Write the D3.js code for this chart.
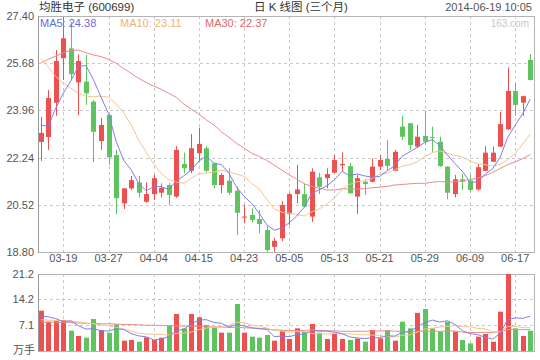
<!DOCTYPE html>
<html><head><meta charset="utf-8">
<script src="https://cdn.jsdelivr.net/npm/d3@7"></script>
<style>body{margin:0;background:#fff}svg{display:block}</style>
</head><body>
<svg id="c" width="540" height="360"></svg>
<script>
const dates = ["03-14","03-17","03-18","03-19","03-20","03-21","03-24","03-25","03-26","03-27","03-28","03-31",
"04-01","04-02","04-03","04-04","04-08","04-09","04-10","04-11","04-14","04-15","04-16","04-17","04-18","04-21","04-22","04-23","04-24","04-25","04-28","04-29","04-30",
"05-05","05-06","05-07","05-08","05-09","05-12","05-13","05-14","05-15","05-16","05-19","05-20","05-21","05-22","05-23","05-26","05-27","05-28","05-29","05-30",
"06-03","06-04","06-05","06-06","06-09","06-10","06-11","06-12","06-13","06-16","06-17","06-18","06-19"];
const opens  = [22.81,22.99,24.24,25.86,26.22,24.98,25.01,24.28,22.84,23.79,22.33,20.57,21.12,21.33,20.63,20.91,20.96,21.24,20.82,22.01,21.76,22.40,22.58,22.03,21.24,21.40,21.03,20.06,20.15,20.00,19.60,18.99,19.30,20.18,20.91,20.91,20.09,21.52,21.49,21.69,21.96,21.93,20.82,21.36,21.36,21.91,22.19,21.76,23.37,23.49,22.64,23.03,22.99,22.82,21.91,20.91,21.45,21.40,21.08,21.76,22.09,22.64,23.27,24.67,24.24,25.80];
const closes = [23.14,24.41,25.76,26.59,25.28,25.76,24.58,23.18,23.43,22.25,20.76,21.12,21.42,20.96,20.91,21.49,21.14,20.88,22.52,21.85,22.58,22.74,21.76,21.24,21.61,20.96,20.23,20.09,19.97,19.82,18.87,19.21,20.51,20.91,21.08,20.45,21.73,21.18,21.64,22.15,22.01,20.94,21.49,21.28,21.91,22.15,21.94,22.45,23.00,22.70,23.00,22.82,22.96,21.93,20.96,21.45,21.36,21.06,21.89,22.42,22.42,23.46,24.67,24.16,24.48,25.07];
const highs  = [23.72,24.70,26.16,27.36,27.18,26.00,25.98,24.34,23.68,23.83,22.52,21.13,21.57,21.57,21.33,21.61,21.30,21.31,22.66,22.42,23.10,23.33,22.66,22.05,21.67,21.85,21.18,20.51,20.39,20.33,19.75,19.32,20.66,20.96,21.97,21.30,21.85,21.69,21.85,22.33,22.42,22.05,21.61,21.45,22.21,22.33,22.88,22.52,23.76,23.51,23.43,23.94,23.37,23.00,21.93,21.61,21.63,21.61,22.01,22.66,22.64,23.91,25.53,24.95,24.50,26.02];
const lows   = [22.12,22.52,23.76,25.07,25.07,23.79,24.16,22.08,22.52,21.97,20.18,20.37,21.06,20.79,20.60,20.70,20.79,20.51,20.77,21.67,21.67,22.09,21.70,21.12,20.94,20.88,19.42,19.85,19.87,19.48,18.81,18.81,19.20,19.78,20.57,20.43,19.90,20.91,21.12,21.67,21.73,20.92,20.18,20.88,21.34,21.79,21.79,21.75,22.88,22.52,22.59,22.70,22.45,21.90,20.72,20.79,21.06,21.00,21.03,21.74,22.08,22.63,23.25,23.76,23.76,25.05];
const volumes = [11.1,8.07,8.26,8.53,5.6,4.13,3.67,8.8,5.78,5.05,7.34,2.84,3.03,2.57,3.76,3.03,3.67,6.88,10.2,6.24,10.2,9.27,7.16,6.42,5.05,5.05,12.94,5.05,3.95,3.67,4.4,2.84,5.6,3.3,6.24,5.33,7.43,5.05,3.3,4.86,3.3,3.03,3.4,2.57,5.78,3.49,5.78,2.84,8.07,6.24,10.5,11.56,6.24,5.33,8.07,5.33,3.03,2.11,3.95,4.68,2.57,10.83,21.2,6.24,4.13,5.6];
// moving-average values before enough days are in the window
const ma5Head  = [23.43,23.37,24.05,24.59];
const ma10Head = [25.85,25.54,25.19,24.95,24.77,24.58,24.48,24.46,24.48];
const ma30Head = [25.69,25.82,25.94,26.06,26.14,26.16,26.06,25.98,25.92,25.82,25.68,25.49,25.31,25.13,24.98,24.85,24.73,24.58,24.44,24.19,24.01,23.82,23.61,23.43,23.18,22.98,22.76,22.58,22.40];
const vma5Head  = [9.6,9.4,8.9,8.1];
const vma10Head = [8.6,8.5,8.4,8.3,8.2,8.0,7.7,7.5,7.2];
const vma30Head = [8.0,7.9,7.9,7.8,7.8,7.7,7.6,7.6,7.5,7.5,7.4,7.3,7.3,7.2,7.1,7.1,7.0,7.0,6.9,6.9,6.8,6.8,6.7,6.6,6.6,6.5,6.5,6.4,6.3];
const priceTicks = [18.80,20.52,22.24,23.96,25.68,27.40];
const volTicks = [7.1,14.2,21.2];
const dateTicks = ["03-19","03-27","04-04","04-15","04-23","05-05","05-13","05-21","05-29","06-09","06-17"];
const legendNames = ["MA5","MA10","MA30"];
const legendValues = [24.38,23.11,22.37];

const RED="#ec5050", GREEN="#5fc35f";
const C_MA=["#7f7fe6","#f6c58f","#ea8c8c"];
const LEG=["#6a6ad8","#f2b46c","#e06868"];
const FONT='"Liberation Sans", Arial, "Noto Sans CJK SC", sans-serif';

function movingAvg(arr, n, head){
  return arr.map((v,i)=> i < n-1 ? head[i] : d3.mean(arr.slice(i-n+1,i+1)));
}

const svg=d3.select("#c");
const L=38,R=534,T=16,B=252,VT=274,VB=351;
const x=d3.scaleBand().domain(dates).range([37,534]).padding(0);
const cx=d=>x(d)+x.bandwidth()/2;
const y=d3.scaleLinear().domain([18.80,27.40]).range([B,T]);
const yv=d3.scaleLinear().domain([0,21.2]).range([VB,VT]);

// grids
const g=svg.append("g");
function hgrid(sc,ticks,x1,x2){
  g.selectAll(null).data(ticks).enter().append("line")
   .attr("x1",x1).attr("x2",x2).attr("y1",d=>Math.round(sc(d))+0.5).attr("y2",d=>Math.round(sc(d))+0.5)
   .attr("stroke","#c8c8c8").attr("stroke-dasharray","3,3");
}
hgrid(y,priceTicks.slice(1,-1),L,R);
hgrid(yv,volTicks.slice(0,-1),L,R);
g.selectAll(null).data(dateTicks).enter().append("line")
 .attr("x1",d=>Math.round(cx(d))+0.5).attr("x2",d=>Math.round(cx(d))+0.5).attr("y1",T).attr("y2",B)
 .attr("stroke","#c8c8c8").attr("stroke-dasharray","3,3");
g.selectAll(null).data(dateTicks).enter().append("line")
 .attr("x1",d=>Math.round(cx(d))+0.5).attr("x2",d=>Math.round(cx(d))+0.5).attr("y1",VT).attr("y2",VB)
 .attr("stroke","#c8c8c8").attr("stroke-dasharray","3,3");

// frames
svg.append("rect").attr("x",L+0.5).attr("y",T+0.5).attr("width",R-L).attr("height",B-T)
  .attr("fill","none").attr("stroke","#b4b4b4");
svg.append("rect").attr("x",L+0.5).attr("y",VT+0.5).attr("width",R-L).attr("height",VB-VT)
  .attr("fill","none").attr("stroke","#b4b4b4");
svg.append("line").attr("x1",L+0.5).attr("x2",L+0.5).attr("y1",T).attr("y2",B+1).attr("stroke","#999");
svg.append("line").attr("x1",L+0.5).attr("x2",L+0.5).attr("y1",VT).attr("y2",VB+1).attr("stroke","#999");

// candles
const idx=d3.range(dates.length);
const cg=svg.append("g");
const isUp=i=>closes[i]>=opens[i];
cg.selectAll("line.w").data(idx).enter().append("line")
  .attr("x1",i=>Math.round(cx(dates[i]))+0.5).attr("x2",i=>Math.round(cx(dates[i]))+0.5)
  .attr("y1",i=>y(highs[i])).attr("y2",i=>y(lows[i]))
  .attr("stroke",i=>isUp(i)?RED:GREEN);
cg.selectAll("rect.b").data(idx).enter().append("rect")
  .attr("x",i=>Math.round(cx(dates[i]))-2).attr("width",5)
  .attr("y",i=>y(Math.max(opens[i],closes[i])))
  .attr("height",i=>Math.max(1,Math.abs(y(opens[i])-y(closes[i]))))
  .attr("fill",i=>isUp(i)?RED:GREEN);

// MA lines
const mas=[movingAvg(closes,5,ma5Head),movingAvg(closes,10,ma10Head),movingAvg(closes,30,ma30Head)];
const line=d3.line().x((d,i)=>cx(dates[i])).y(d=>y(d));
[2,1,0].forEach(k=>svg.append("path").attr("d",line(mas[k])).attr("fill","none").attr("stroke",C_MA[k]).attr("stroke-width",1));

// volume bars
svg.append("g").selectAll("rect").data(idx).enter().append("rect")
  .attr("x",i=>Math.round(cx(dates[i]))-2).attr("width",5)
  .attr("y",i=>yv(volumes[i])).attr("height",i=>VB-yv(volumes[i]))
  .attr("fill",i=>isUp(i)?RED:GREEN);
const vmas=[movingAvg(volumes,5,vma5Head),movingAvg(volumes,10,vma10Head),movingAvg(volumes,30,vma30Head)];
const vline=d3.line().x((d,i)=>cx(dates[i])).y(d=>yv(d));
[2,1,0].forEach(k=>svg.append("path").attr("d",vline(vmas[k])).attr("fill","none").attr("stroke",C_MA[k]).attr("stroke-width",1));

// axes labels
const yAxis=d3.axisLeft(y).tickValues(priceTicks).tickFormat(d3.format(".2f")).tickSize(0).tickPadding(4);
const ya=svg.append("g").attr("transform",`translate(${L},0)`).call(yAxis);
ya.select(".domain").remove();
ya.selectAll("text").attr("font-family",FONT).attr("font-size",11).attr("fill","#555");
const vAxis=d3.axisLeft(yv).tickValues(volTicks).tickFormat(d=>d).tickSize(0).tickPadding(4);
const va=svg.append("g").attr("transform",`translate(${L},0)`).call(vAxis);
va.select(".domain").remove();
va.selectAll("text").attr("font-family",FONT).attr("font-size",11).attr("fill","#555");
const xAxis=d3.axisBottom(x).tickValues(dateTicks).tickSize(0).tickPadding(0);
const xa=svg.append("g").attr("transform",`translate(0,${B+2})`).call(xAxis);
xa.select(".domain").remove();
xa.selectAll("text").attr("font-family",FONT).attr("font-size",11).attr("fill","#555").attr("dy","0.75em");

svg.append("text").attr("x",35).attr("y",354).attr("text-anchor","end").attr("font-family",FONT)
  .attr("font-size",11).attr("fill","#555").text("万手");

// titles
svg.append("text").attr("x",39).attr("y",11).attr("font-family",FONT).attr("font-size",11.5).attr("fill","#333").text("均胜电子 (600699)");
svg.append("text").attr("x",254).attr("y",11).attr("font-family",FONT).attr("font-size",11.5).attr("fill","#333").text("日 K 线图 (三个月)");
svg.append("text").attr("x",532).attr("y",11).attr("text-anchor","end").attr("font-family",FONT).attr("font-size",11).attr("fill","#555").text("2014-06-19 10:05");
svg.append("text").attr("x",529).attr("y",27).attr("text-anchor","end").attr("font-family",FONT).attr("font-size",10).attr("fill","#c8c8c8").text("163.com");

// legend
const legX=[40,120,205];
legendNames.forEach((n,k)=>svg.append("text").attr("x",legX[k]).attr("y",27).attr("font-family",FONT)
  .attr("font-size",11).attr("fill",LEG[k]).text(`${n}: ${legendValues[k].toFixed(2)}`));
</script>
</body></html>
